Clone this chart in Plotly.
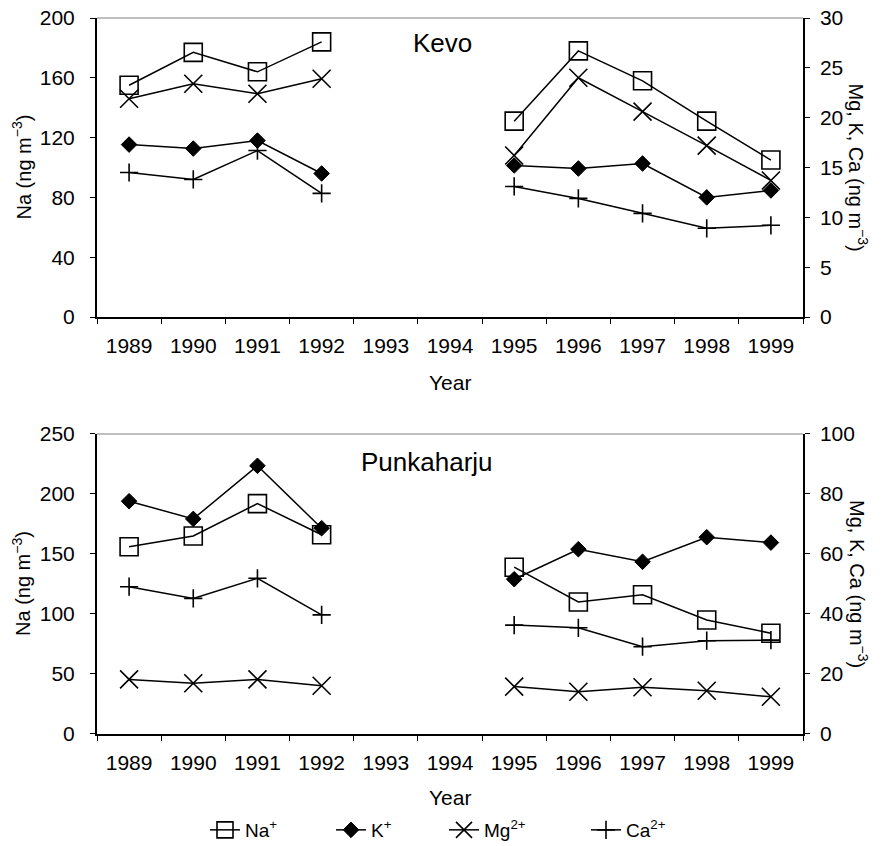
import plotly.graph_objects as go

years = ["1989", "1990", "1991", "1992", "1993", "1994", "1995", "1996", "1997", "1998", "1999"]

# Kevo (Na on left axis, others on right axis)
kevo_na = [155, 177, 164, 184, None, None, 131, 178, 158, 131, 105]
kevo_k = [17.3, 16.9, 17.7, 14.4, None, None, 15.2, 14.9, 15.4, 12.0, 12.7]
kevo_mg = [21.9, 23.4, 22.4, 23.9, None, None, 16.2, 24.0, 20.6, 17.2, 13.7]
kevo_ca = [14.5, 13.8, 16.7, 12.4, None, None, 13.1, 11.9, 10.4, 8.9, 9.2]

# Punkaharju
punk_na = [156, 165, 192, 166, None, None, 139, 110, 116, 95, 84]
punk_k = [77.6, 71.7, 89.4, 68.6, None, None, 51.6, 61.6, 57.4, 65.6, 63.8]
punk_mg = [18.2, 16.9, 18.2, 16.1, None, None, 15.8, 14.1, 15.6, 14.4, 12.4]
punk_ca = [49.1, 45.2, 51.9, 39.7, None, None, 36.3, 35.4, 29.1, 31.1, 31.3]

names = ["Na<sup>+</sup>", "K<sup>+</sup>", "Mg<sup>2+</sup>", "Ca<sup>2+</sup>"]
markers = [
    dict(symbol="square-open", size=18, color="black", line=dict(width=1.6, color="black")),
    dict(symbol="diamond", size=12, color="black", line=dict(width=1, color="black")),
    dict(symbol="x-thin", size=18, color="black", line=dict(width=1.6, color="black")),
    dict(symbol="cross-thin", size=13, color="black", line=dict(width=1.6, color="black")),
]
legends = ["legend", "legend2", "legend3", "legend4"]

FONT = "Liberation Sans, Arial, sans-serif"
fig = go.Figure()

panels = [
    (kevo_na, kevo_k, kevo_mg, kevo_ca, "x", "y", "y2", True),
    (punk_na, punk_k, punk_mg, punk_ca, "x2", "y3", "y4", False),
]
for na, k, mg, ca, xa, yl, yr, show in panels:
    series = [(na, yl), (k, yr), (mg, yr), (ca, yr)]
    for i, (vals, ya) in enumerate(series):
        fig.add_trace(go.Scatter(
            x=years, y=vals, xaxis=xa, yaxis=ya, name=names[i],
            mode="lines+markers", connectgaps=False,
            line=dict(color="black", width=1.5), marker=markers[i],
            showlegend=show, legend=legends[i],
        ))

TICK = 21
xcommon = dict(type="category", categoryorder="array", categoryarray=years,
               range=[-0.5, 10.5], tickson="boundaries", ticks="outside", ticklen=5,
               tickcolor="black", showline=True, linecolor="black", linewidth=2,
               showgrid=False, zeroline=False, ticklabelstandoff=9,
               tickfont=dict(family=FONT, size=TICK, color="black"))

ycommon = dict(showgrid=False, zeroline=False, ticks="outside", ticklen=5,
               tickcolor="black", showline=True, linecolor="black",
               ticklabeloverflow="allow",
               tickfont=dict(family=FONT, size=TICK, color="black"))

top_dom = [0.5824, 1.0]
bot_dom = [0.0, 0.419]

fig.update_layout(
    xaxis=dict(domain=[0, 1], anchor="y", **xcommon),
    xaxis2=dict(domain=[0, 1], anchor="y3", **xcommon),
    yaxis=dict(domain=top_dom, anchor="x", range=[0, 200], tickvals=[0, 40, 80, 120, 160, 200],
               linewidth=2, ticklabelstandoff=11, **ycommon),
    yaxis2=dict(overlaying="y", side="right", anchor="x", range=[0, 30],
                tickvals=[0, 5, 10, 15, 20, 25, 30], linewidth=1.5, ticklabelstandoff=6, **ycommon),
    yaxis3=dict(domain=bot_dom, anchor="x2", range=[0, 250], tickvals=[0, 50, 100, 150, 200, 250],
                linewidth=2, ticklabelstandoff=11, **ycommon),
    yaxis4=dict(overlaying="y3", side="right", anchor="x2", range=[0, 100],
                tickvals=[0, 20, 40, 60, 80, 100], linewidth=1.5, ticklabelstandoff=6, **ycommon),
    width=888, height=846,
    margin=dict(l=97, r=85, t=18, b=112, autoexpand=False),
    paper_bgcolor="white", plot_bgcolor="white",
    font=dict(family=FONT, size=20, color="black"),
)

# separate legends, one per series, positioned along the bottom row
leg_lefts = [205, 331, 444, 586]
for name, lx in zip(legends, leg_lefts):
    fig.layout[name] = dict(
        x=(lx - 97) / 706, y=(734 - 830) / 716, xanchor="left", yanchor="middle",
        orientation="h", bgcolor="rgba(0,0,0,0)", borderwidth=0,
        font=dict(family=FONT, size=19, color="black"),
    )

# top frame lines (gray)
for ya in ["y", "y3"]:
    fig.add_shape(type="line", xref="x domain" if ya == "y" else "x2 domain",
                  yref=f"{ya} domain", x0=0, x1=1, y0=1, y1=1,
                  line=dict(color="#808080", width=1))

ann = []
ann.append(dict(text="Kevo", x=(442 - 97) / 706, y=(734 - 43) / 716, font=dict(size=26)))
ann.append(dict(text="Punkaharju", x=(427 - 97) / 706, y=(734 - 462) / 716, font=dict(size=26)))
ann.append(dict(text="Year", x=(450 - 97) / 706, y=(734 - 382) / 716, font=dict(size=21)))
ann.append(dict(text="Year", x=(450 - 97) / 706, y=(734 - 798) / 716, font=dict(size=21)))
for dom in [top_dom, bot_dom]:
    yc = (dom[0] + dom[1]) / 2
    ann.append(dict(text="Na (ng m<sup>\u22123</sup>)", x=(22 - 97) / 706, y=yc,
                    textangle=-90, font=dict(size=20)))
    ann.append(dict(text="Mg, K, Ca (ng m<sup>\u22123</sup>)", x=(858 - 97) / 706, y=yc,
                    textangle=90, font=dict(size=20)))
for a in ann:
    a.update(xref="paper", yref="paper", showarrow=False, xanchor="center", yanchor="middle")
    a["font"].update(family=FONT, color="black")
    fig.add_annotation(**a)

fig.write_html("out.html", config={"displayModeBar": False},
               post_script="document.body.style.margin='0px';")
